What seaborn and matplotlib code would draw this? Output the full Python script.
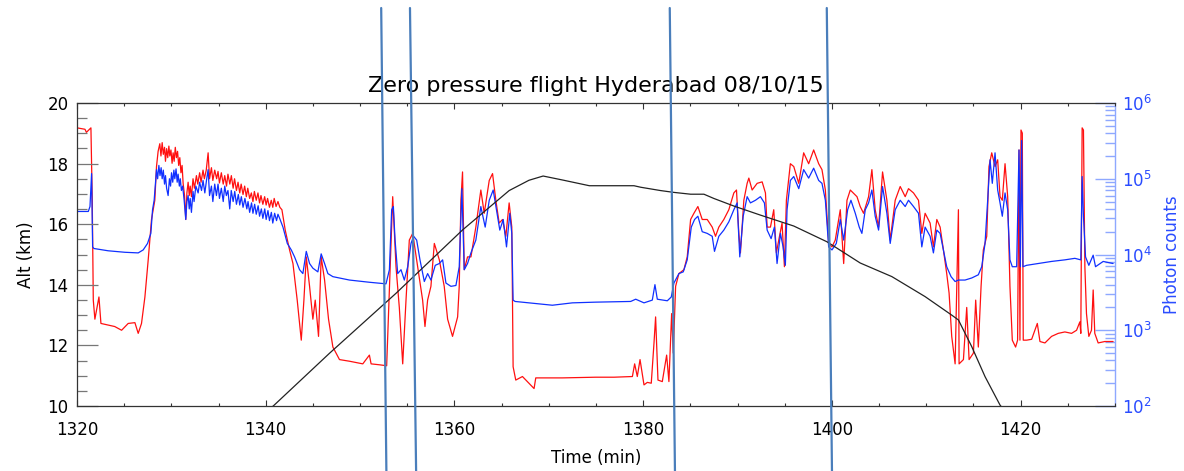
import numpy as np
import pandas as pd
import matplotlib
matplotlib.use("Agg")
import matplotlib.pyplot as plt
import seaborn as sns
from matplotlib.ticker import MultipleLocator, LogLocator, NullFormatter

sns.set_style("white")
plt.rcParams['font.family'] = ['DejaVu Sans']
plt.rcParams['text.color'] = 'black'
plt.rcParams['axes.labelcolor'] = 'black'
plt.rcParams['xtick.color'] = 'black'
plt.rcParams['ytick.color'] = 'black'

# ---------------- data ----------------
title = "Zero pressure flight Hyderabad 08/10/15"
x_label = "Time (min)"
left_label = "Alt (km)"
right_label = "Photon counts"

# balloon altitude (km)
alt_time = [1338.0, 1340.8, 1346.76, 1353.81, 1360.86, 1365.8, 1367.9, 1369.4, 1371.44,
            1374.3, 1379.03, 1379.74, 1381.85, 1383.26, 1385.03, 1386.44, 1387.49, 1389.61,
            1392.43, 1395.96, 1399.48, 1403.0, 1406.36, 1409.88, 1412.7, 1413.41, 1414.82,
            1416.23, 1417.82, 1420.0]
alt_km = [9.4, 10.0, 11.74, 13.72, 15.81, 17.11, 17.45, 17.59, 17.46,
          17.27, 17.27, 17.22, 17.11, 17.05, 16.99, 16.99, 16.85, 16.6,
          16.3, 15.94, 15.42, 14.72, 14.27, 13.61, 13.0, 12.84, 11.96,
          10.97, 10.03, 9.2]

# red photon counts
red_time = [1320.0, 1320.85, 1321.0, 1321.48, 1321.62, 1321.73, 1321.9, 1322.33, 1322.54, 1323.3,
            1324.0, 1324.73, 1325.43, 1326.14, 1326.49, 1326.84, 1327.2, 1327.55, 1327.9, 1328.25,
            1328.43, 1328.6, 1328.78, 1328.9, 1329.03, 1329.15, 1329.28, 1329.38, 1329.5, 1329.62,
            1329.74, 1329.84, 1329.96, 1330.08, 1330.19, 1330.3, 1330.42, 1330.54, 1330.66, 1330.78,
            1330.9, 1331.02, 1331.14, 1331.25, 1331.4, 1331.53, 1331.65, 1331.78, 1331.9, 1332.0,
            1332.13, 1332.3, 1332.45, 1332.66, 1332.8, 1333.0, 1333.15, 1333.36, 1333.5, 1333.7,
            1333.9, 1334.05, 1334.25, 1334.4, 1334.6, 1334.8, 1334.95, 1335.1, 1335.3, 1335.5,
            1335.66, 1335.85, 1336.0, 1336.2, 1336.36, 1336.55, 1336.7, 1336.9, 1337.07, 1337.25,
            1337.4, 1337.6, 1337.77, 1337.95, 1338.1, 1338.3, 1338.48, 1338.65, 1338.8, 1339.0,
            1339.18, 1339.35, 1339.5, 1339.7, 1339.89, 1340.05, 1340.2, 1340.4, 1340.59, 1340.75,
            1340.9, 1341.1, 1341.3, 1341.5, 1341.72, 1342.07, 1342.53, 1342.89,
            1343.34, 1343.77, 1344.05, 1344.3, 1344.65, 1345.0, 1345.25, 1345.6, 1345.88, 1346.24,
            1346.66, 1347.12, 1347.82, 1348.88, 1350.29, 1350.99, 1351.17, 1352.05, 1352.82, 1353.11,
            1353.46, 1353.81, 1354.16, 1354.52, 1354.87, 1355.22, 1355.58, 1356.1, 1356.63, 1356.88,
            1357.16, 1357.51, 1357.87, 1358.4, 1358.92, 1359.28, 1359.8, 1360.34, 1360.51, 1360.69,
            1360.86, 1361.04, 1361.39, 1361.75, 1362.27, 1362.8, 1363.16, 1363.69, 1364.04, 1364.39,
            1364.74, 1365.1, 1365.45, 1365.8, 1366.08, 1366.22, 1366.5, 1367.21, 1368.44, 1368.62,
            1371.44, 1374.97, 1376.92, 1378.86, 1379.1, 1379.38, 1379.67, 1380.09, 1380.44, 1380.86,
            1381.15, 1381.32, 1381.57, 1382.03, 1382.49, 1382.73, 1383.02, 1383.19, 1383.44, 1383.79,
            1384.32, 1384.67, 1385.03, 1385.38, 1385.8, 1386.26, 1386.79, 1387.32, 1387.67, 1388.02,
            1388.55, 1389.08, 1389.61, 1389.89, 1390.14, 1390.31, 1390.67, 1391.02, 1391.2, 1391.55,
            1392.08, 1392.61, 1392.96, 1393.14, 1393.49, 1393.84, 1394.12, 1394.37, 1394.72, 1394.97,
            1395.18, 1395.6, 1395.96, 1396.49, 1397.01, 1397.54, 1398.07, 1398.6, 1398.95, 1399.31,
            1399.66, 1400.01, 1400.36, 1400.89, 1401.25, 1401.6, 1401.95, 1402.66, 1403.0, 1403.36,
            1403.89, 1404.24, 1404.59, 1404.95, 1405.37, 1405.83, 1406.18, 1406.71, 1407.24, 1407.77,
            1408.12, 1408.65, 1409.18, 1409.53, 1409.88, 1410.41, 1410.76, 1411.12, 1411.47, 1411.82,
            1412.17, 1412.42, 1412.7, 1413.06, 1413.41, 1413.48, 1413.94, 1414.29, 1414.54, 1415.0,
            1415.24, 1415.52, 1415.81, 1416.05, 1416.41, 1416.65, 1416.94, 1417.29, 1417.57, 1417.82,
            1418.06, 1418.35, 1418.63, 1418.87, 1419.12, 1419.47, 1419.68, 1419.83, 1419.93, 1420.04,
            1420.18, 1420.28, 1420.46, 1420.64, 1421.17, 1421.77, 1422.05, 1422.58, 1423.28, 1423.99,
            1424.69, 1425.4, 1425.93, 1426.28, 1426.38, 1426.52, 1426.66, 1426.81, 1426.98, 1427.23,
            1427.51, 1427.69, 1427.86, 1428.22, 1428.92, 1429.8]
red_counts = [4.7e5, 4.5e5, 4.1e5, 4.7e5, 5.2e4, 2500, 1400, 2750, 1230, 1170,
              1120, 1000, 1230, 1260, 910, 1230, 2750, 8500, 2.9e4, 5.2e4,
              1.45e5, 2.3e5, 2.9e5, 2.0e5, 3.0e5, 2.1e5, 2.6e5, 1.7e5, 2.5e5, 1.9e5,
              2.7e5, 2.0e5, 2.4e5, 1.6e5, 2.2e5, 1.7e5, 2.6e5, 1.9e5, 2.3e5, 1.5e5,
              1.9e5, 1.2e5, 1.5e5, 8.7e4, 6.0e4, 2.9e4, 6.5e4, 9.0e4, 6.0e4, 8.0e4,
              5.8e4, 1.0e5, 7.5e4, 1.1e5, 8.5e4, 1.2e5, 9.0e4, 1.3e5, 1.0e5, 1.3e5,
              2.2e5, 1.0e5, 1.4e5, 9.5e4, 1.3e5, 1.0e5, 1.25e5, 8.8e4, 1.2e5, 8.5e4,
              1.1e5, 8.0e4, 1.15e5, 8.5e4, 1.1e5, 7.5e4, 1.0e5, 7.0e4, 9.0e4, 6.5e4,
              8.5e4, 6.2e4, 8.0e4, 5.8e4, 7.5e4, 5.5e4, 6.5e4, 5.0e4, 6.8e4, 5.2e4,
              6.5e4, 4.8e4, 6.0e4, 4.6e4, 5.8e4, 4.5e4, 5.5e4, 4.2e4, 5.2e4, 4.2e4,
              5.5e4, 4.3e4, 5.0e4, 4.2e4, 3.9e4, 2.1e4, 1.15e4, 7600,
              2500, 740, 2500, 9300, 3800, 1400, 2500, 830, 9300, 4600,
              1400, 600, 410, 390, 360, 470, 360, 350, 340, 3400,
              5.8e4, 6900, 2000, 360, 2500, 1.55e4, 1.9e4, 6900, 2500, 1120,
              2500, 3800, 1.4e4, 8500, 3800, 1400, 830, 1500, 3800, 5.2e4,
              1.23e5, 6300, 9300, 9300, 2.3e4, 7.1e4, 3.5e4, 9.5e4, 1.17e5, 5.2e4,
              2.6e4, 2.9e4, 1.74e4, 4.8e4, 2.3e4, 330, 220, 245, 170, 235,
              235, 240, 240, 245, 360, 245, 410, 190, 205, 200,
              680, 1500, 220, 210, 470, 210, 1660, 500, 3800, 5600,
              6300, 9300, 2.9e4, 3.5e4, 4.3e4, 2.9e4, 2.9e4, 2.3e4, 1.74e4, 2.3e4,
              2.9e4, 3.9e4, 6.5e4, 7.1e4, 1.9e4, 1.05e4, 5.2e4, 8.7e4, 1.02e5, 7.1e4,
              8.7e4, 9.1e4, 6.5e4, 2.3e4, 2.3e4, 3.9e4, 1.05e4, 1.55e4, 2.6e4, 6900,
              5.2e4, 1.58e5, 1.45e5, 8.7e4, 2.2e5, 1.58e5, 2.4e5, 1.58e5, 1.32e5, 7.1e4,
              1.4e4, 1.26e4, 1.55e4, 3.9e4, 7600, 5.2e4, 7.1e4, 5.8e4, 4.3e4, 3.5e4,
              5.8e4, 1.32e5, 3.9e4, 2.3e4, 1.23e5, 5.2e4, 1.55e4, 5.2e4, 7.9e4, 5.8e4,
              7.4e4, 6.5e4, 5.2e4, 1.9e4, 3.5e4, 2.6e4, 1.26e4, 2.9e4, 2.3e4, 1.15e4,
              5600, 3100, 830, 360, 3.9e4, 360, 410, 2000, 410, 500,
              2500, 600, 3800, 1.15e4, 1.74e4, 1.45e5, 2.2e5, 1.45e5, 1.78e5, 5.8e4,
              5.2e4, 1.58e5, 5.8e4, 3800, 740, 600, 740, 2.4e5, 740, 4.4e5,
              4.0e5, 740, 740, 740, 760, 1230, 710, 680, 830, 910,
              950, 910, 1000, 1290, 910, 4.7e5, 4.4e5, 6900, 1660, 830,
              1000, 3400, 910, 680, 710, 710]

# blue photon counts
blue_time = [1320.0, 1321.2, 1321.38, 1321.55, 1321.66, 1321.8, 1323.3, 1325.08, 1326.49, 1327.02,
             1327.48, 1327.83, 1328.01, 1328.18,
             1328.43, 1328.55, 1328.68, 1328.8, 1328.92, 1329.03, 1329.15, 1329.28, 1329.38, 1329.5,
             1329.66, 1329.8, 1329.92, 1330.02, 1330.15, 1330.27, 1330.37, 1330.5, 1330.62, 1330.72,
             1330.85, 1330.95, 1331.07, 1331.2, 1331.36, 1331.53, 1331.65, 1331.78, 1331.9, 1332.0,
             1332.13, 1332.3, 1332.41, 1332.6, 1332.84, 1333.0, 1333.2, 1333.36, 1333.55, 1333.75,
             1333.9, 1334.05, 1334.25, 1334.4, 1334.6, 1334.78, 1334.95, 1335.1, 1335.3, 1335.5,
             1335.66, 1335.83, 1336.0, 1336.19, 1336.35, 1336.55, 1336.72, 1336.9, 1337.1, 1337.25,
             1337.42, 1337.6, 1337.8, 1338.0, 1338.13, 1338.3, 1338.5, 1338.65, 1338.83, 1339.0,
             1339.2, 1339.35, 1339.54, 1339.7, 1339.9, 1340.05, 1340.24, 1340.4, 1340.6, 1340.75,
             1340.95, 1341.15, 1341.3, 1341.48,
             1341.83, 1342.29, 1342.71, 1343.06, 1343.59, 1343.94,
             1344.3, 1344.65, 1345.0, 1345.53, 1345.88, 1346.24, 1346.59, 1347.12, 1347.46, 1348.88,
             1351.0, 1352.75, 1353.11, 1353.35, 1353.53, 1353.71, 1353.99, 1354.34, 1354.69, 1355.05,
             1355.4, 1355.68, 1356.0, 1356.35, 1356.81, 1357.16, 1357.51, 1357.97, 1358.4, 1358.75,
             1359.1, 1359.63, 1360.16, 1360.51, 1360.79, 1361.04, 1361.39, 1361.75, 1362.27, 1362.8,
             1363.26, 1363.69, 1364.11, 1364.46, 1364.81, 1365.17, 1365.52, 1365.87, 1366.08, 1366.22,
             1366.43, 1367.92, 1370.38, 1372.5, 1374.97, 1378.68, 1379.21, 1380.09, 1380.97, 1381.25,
             1381.5, 1382.56, 1382.98, 1383.26, 1383.79, 1384.25, 1384.67, 1385.1, 1385.45, 1385.8,
             1386.26, 1386.79, 1387.32, 1387.56, 1388.02, 1388.55, 1389.08, 1389.61, 1389.96, 1390.24,
             1390.6, 1391.02, 1391.37, 1391.9, 1392.43, 1392.85, 1393.14, 1393.56, 1393.91, 1394.19,
             1394.55, 1394.83, 1395.07, 1395.25, 1395.6, 1395.96, 1396.49, 1397.01, 1397.54, 1398.07,
             1398.6, 1398.95, 1399.31, 1399.66, 1400.01, 1400.47, 1400.89, 1401.25, 1401.67, 1402.02,
             1402.48, 1402.9, 1403.18, 1403.54, 1403.89, 1404.24, 1404.59, 1404.95, 1405.37, 1405.83,
             1406.18, 1406.71, 1407.24, 1407.77, 1408.12, 1408.65, 1409.18, 1409.53, 1409.88, 1410.41,
             1410.76, 1411.12, 1411.47, 1411.82, 1412.17, 1412.63, 1413.06, 1413.41, 1414.11, 1414.82,
             1415.52, 1415.88, 1416.23, 1416.51, 1416.76, 1417.0, 1417.29, 1417.57, 1417.82, 1418.06,
             1418.35, 1418.63, 1418.87, 1419.12, 1419.58, 1419.83, 1419.97, 1420.11, 1420.25, 1420.64,
             1421.87, 1423.28, 1424.69, 1425.75, 1426.38, 1426.52, 1426.66, 1426.88, 1427.23, 1427.69,
             1427.94, 1428.75, 1429.8]
blue_counts = [3.7e4, 3.7e4, 4.3e4, 1.17e5, 1.26e4, 1.2e4, 1.12e4, 1.07e4, 1.05e4, 1.15e4,
               1.4e4, 1.9e4, 3.9e4, 5.2e4,
               1.32e5, 1.0e5, 1.5e5, 1.1e5, 1.4e5, 1.0e5, 1.3e5, 8.5e4, 1.1e5, 7.5e4,
               6.0e4, 1.0e5, 8.0e4, 1.2e5, 9.0e4, 1.3e5, 1.0e5, 1.35e5, 9.0e4, 1.15e5,
               8.0e4, 1.0e5, 7.0e4, 8.0e4, 5.2e4, 2.9e4, 5.0e4, 6.0e4, 4.0e4, 5.5e4,
               3.6e4, 6.8e4, 5.0e4, 8.0e4, 6.5e4, 9.0e4, 7.0e4, 9.5e4, 6.5e4, 1.0e5,
               1.32e5, 6.0e4, 8.0e4, 5.0e4, 8.5e4, 6.0e4, 8.5e4, 5.5e4, 7.5e4, 5.0e4,
               8.0e4, 6.0e4, 7.0e4, 4.0e4, 7.0e4, 5.0e4, 6.8e4, 4.6e4, 6.2e4, 4.5e4,
               5.8e4, 4.2e4, 5.5e4, 4.0e4, 5.0e4, 3.6e4, 4.8e4, 3.5e4, 4.6e4, 3.4e4,
               4.4e4, 3.2e4, 4.0e4, 3.0e4, 4.0e4, 2.9e4, 3.8e4, 2.8e4, 3.6e4, 2.6e4,
               3.5e4, 2.8e4, 3.4e4, 3.0e4,
               2.3e4, 1.4e4, 1.15e4, 9300, 6300, 5600,
               1.1e4, 7600, 6600, 5900, 1.02e4, 7600, 5600, 5100, 5000, 4600,
               4300, 4100, 6300, 3.9e4, 4.3e4, 1.55e4, 5600, 6300, 4600, 6900,
               1.4e4, 1.74e4, 1.55e4, 8500, 4400, 5600, 4600, 7200, 7600, 8500,
               4200, 3800, 3900, 6900, 7.4e4, 6300, 7600, 1.05e4, 1.55e4, 4.3e4,
               2.3e4, 5.2e4, 7.1e4, 3.9e4, 2.1e4, 2.9e4, 1.26e4, 3.5e4, 1.9e4, 2500,
               2400, 2300, 2140, 2300, 2350, 2400, 2570, 2300, 2500, 4000,
               2570, 2450, 2750, 4200, 5600, 5900, 8500, 2.3e4, 2.9e4, 3.2e4,
               2.0e4, 1.9e4, 1.74e4, 1.1e4, 1.74e4, 2.1e4, 2.7e4, 3.9e4, 4.8e4, 9300,
               3.2e4, 5.8e4, 4.8e4, 5.2e4, 5.8e4, 4.8e4, 2.1e4, 1.62e4, 2.3e4, 7600,
               1.9e4, 1.26e4, 7200, 3.9e4, 9.5e4, 1.07e5, 7.4e4, 1.32e5, 1.02e5, 1.38e5,
               9.5e4, 8.7e4, 5.2e4, 1.26e4, 1.15e4, 1.4e4, 2.9e4, 1.55e4, 3.9e4, 5.2e4,
               3.5e4, 2.3e4, 1.9e4, 3.9e4, 4.8e4, 7.1e4, 3.2e4, 2.1e4, 7.9e4, 3.5e4,
               1.4e4, 3.9e4, 5.2e4, 4.3e4, 5.2e4, 4.3e4, 3.5e4, 1.26e4, 2.3e4, 1.74e4,
               1.05e4, 2.1e4, 1.9e4, 1.15e4, 6900, 5100, 4400, 4600, 4600, 4900,
               5400, 6900, 1.4e4, 5.2e4, 1.78e5, 8.7e4, 2.2e5, 7.1e4, 4.8e4, 3.2e4,
               6.5e4, 3.9e4, 8500, 6900, 6900, 2.4e5, 6900, 3.2e5, 6900, 7200,
               7600, 8100, 8500, 8900, 8500, 1.07e5, 3.2e4, 9300, 7200, 9800,
               6900, 8100, 7600]

# hand-drawn vertical marker lines (time where each crosses the top / bottom of the figure)
marker_top_time = [1352.24, 1355.29, 1382.82, 1399.46]
marker_bottom_time = [1352.79, 1355.94, 1383.37, 1400.01]

x_ticks = [1320, 1340, 1360, 1380, 1400, 1420]
alt_ticks = [10, 12, 14, 16, 18, 20]

# ---------------- style ----------------
RED = "#ff1010"
BLUE = "#1030ff"
AXBLUE = "#8ea8ff"
TXTBLUE = "#2a4cff"
MARK = "#4a7ebb"

fig = plt.figure(figsize=(11.84, 4.71), dpi=100)
ax = fig.add_axes([0.0650, 0.1380, 0.8767, 0.6433])
ax2 = ax.twinx()

# photon counts on the right (log) axis
sns.lineplot(x=red_time, y=red_counts, ax=ax2, color=RED, lw=0.9,
             estimator=None, sort=False)
sns.lineplot(x=blue_time, y=blue_counts, ax=ax2, color=BLUE, lw=0.9,
             estimator=None, sort=False)
ax2.set_yscale("log")
ax2.set_ylim(1e2, 1e6)

# altitude on the left axis, drawn on top
sns.lineplot(x=alt_time, y=alt_km, ax=ax, color="#222222", lw=0.9,
             estimator=None, sort=False)
ax.set_zorder(ax2.get_zorder() + 1)
ax.patch.set_visible(False)

ax.set_xlim(1320, 1430)
ax.set_ylim(10, 20)
ax.set_xticks(x_ticks)
ax.set_yticks(alt_ticks)
ax.xaxis.set_minor_locator(MultipleLocator(5))
ax.yaxis.set_minor_locator(MultipleLocator(0.5))
ax.tick_params(axis="x", which="major", direction="in", length=4.5, width=0.8,
               top=True, bottom=True, labelsize=12, pad=11, color="#333333",
               labelcolor="black")
ax.tick_params(axis="x", which="minor", direction="in", length=2.5, width=0.8,
               top=True, bottom=True, color="#333333")
ax.tick_params(axis="y", which="major", direction="in", length=15, width=0.9,
               left=True, right=False, labelsize=12, pad=6, color="#777777",
               labelcolor="black")
ax.tick_params(axis="y", which="minor", direction="in", length=7.5, width=0.9,
               left=True, right=False, color="#777777")

ax2.yaxis.set_major_locator(LogLocator(base=10, numticks=10))
ax2.yaxis.set_minor_locator(LogLocator(base=10, subs=np.arange(2, 10), numticks=20))
ax2.yaxis.set_minor_formatter(NullFormatter())
ax2.tick_params(axis="y", which="major", direction="in", length=14.5, width=1.0,
                labelsize=12, pad=5, color=AXBLUE, labelcolor=TXTBLUE)
ax2.tick_params(axis="y", which="minor", direction="in", length=7, width=1.0,
                color=AXBLUE)

for s in ["left", "top", "bottom"]:
    ax.spines[s].set_color("#333333")
    ax.spines[s].set_linewidth(0.9)
ax.spines["right"].set_visible(False)
ax2.spines["right"].set_color(AXBLUE)
ax2.spines["right"].set_linewidth(1.0)
for s in ["left", "top", "bottom"]:
    ax2.spines[s].set_visible(False)

ax.set_xlabel(x_label, fontsize=12, labelpad=7, color="black")
ax.set_ylabel(left_label, fontsize=12, labelpad=9, color="black")
ax2.set_ylabel(right_label, fontsize=12, labelpad=8, color=TXTBLUE)
ax.set_title(title, fontsize=16, pad=8, color="black")

# vertical marker lines that extend beyond the plotting area
for t0, t1 in zip(marker_top_time, marker_bottom_time):
    ax.plot([t0, t1], [1.3135, -0.2145], transform=ax.get_xaxis_transform(),
            color=MARK, lw=1.6, clip_on=False, zorder=10)

fig.savefig("out.png", dpi=100)
